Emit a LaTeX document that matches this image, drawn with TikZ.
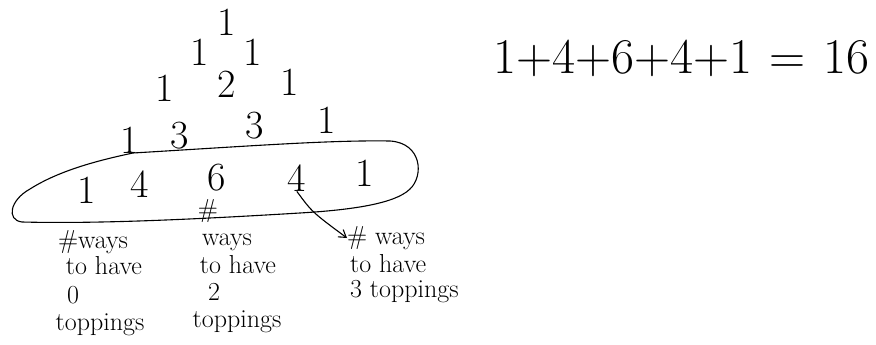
\documentclass[tikz,border=0pt]{standalone}
\usetikzlibrary{arrows.meta}
\begin{document}
\begin{tikzpicture}[x=1pt,y=-1pt,
  num/.style={font=\fontsize{40}{44}\selectfont, inner sep=0pt},
  eq/.style={font=\fontsize{50}{54}\selectfont, inner sep=0pt, anchor=west},
  lab/.style={font=\fontsize{26}{28}\selectfont, inner sep=0pt},
  ink/.style={line width=1.1pt, line cap=round, line join=round}]
\useasboundingbox (0,0) rectangle (876,345);
% Pascal's triangle
\node[num] (r0a) at (227,22) {1};
\node[num] (r1a) at (200,52) {1};
\node[num] (r1b) at (253,52) {1};
\node[num] (r2a) at (165,88) {1};
\node[num] (r2b) at (227,84) {2};
\node[num] (r2c) at (290,82) {1};
\node[num] (r3a) at (130,140) {1};
\node[num] (r3b) at (180,136) {3};
\node[num] (r3c) at (255,126) {3};
\node[num] (r3d) at (327,120) {1};
\node[num] (r4a) at (87,190) {1};
\node[num] (r4b) at (140,184) {4};
\node[num] (r4c) at (217,178) {6};
\node[num] (r4d) at (297,178) {4};
\node[num] (r4e) at (365,173) {1};
% sum
\node[eq] (sum) at (493,58) {1+4+6+4+1\hspace{18pt}=\hspace{18pt}16};
% loop around the fourth row
\draw[ink] (133,153) .. controls (250,146) and (330,140) .. (390,141)
  .. controls (422,143) and (424,176) .. (410,189)
  .. controls (395,204) and (350,210) .. (300,213)
  .. controls (200,219) and (100,224) .. (22,222)
  .. controls (6,220) and (10,200) .. (30,189)
  .. controls (60,170) and (100,160) .. (133,153);
% labels
\node[lab] (la1) at (93,242) {\#ways};
\node[lab] (la2) at (104,266) {to have};
\node[lab] (la3) at (73,295) {0};
\node[lab] (la4) at (100,325) {toppings};
\node[lab] (lb0) at (208,211) {\#};
\node[lab] (lb1) at (227,242) {ways};
\node[lab] (lb2) at (238,265) {to have};
\node[lab] (lb3) at (214,292) {2};
\node[lab] (lb4) at (237,322) {toppings};
\node[lab, anchor=west] (lc1) at (347,238) {\# ways};
\node[lab, anchor=west] (lc2) at (350,264) {to have};
\node[lab, anchor=west] (lc3) at (350,292) {3 toppings};
% arrow
\draw[ink, -{Straight Barb[length=7pt,width=9pt]}] (r4d.south) .. controls (312,212) .. (lc1.west);
\end{tikzpicture}
\end{document}
